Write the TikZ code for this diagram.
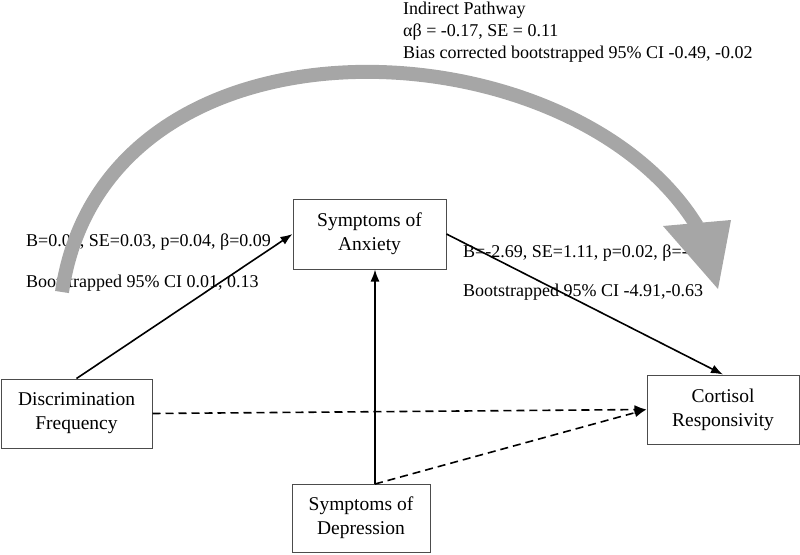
\documentclass[tikz,border=0pt]{standalone}
\usepackage{fontspec}
\setmainfont{Liberation Serif}
\usetikzlibrary{arrows.meta,calc}
\definecolor{arcgray}{HTML}{A6A6A6}
\tikzset{
  box/.style={draw=black!70, line width=1pt, align=center, inner sep=0pt, font=\fontsize{19.5}{24}\selectfont},
  lbl/.style={inner sep=0pt, font=\fontsize{18}{22}\selectfont, align=left},
  conn/.style={-{Latex[length=12pt,width=9pt]}, line width=1.6pt},
  dconn/.style={conn, dash pattern=on 8pt off 5pt},
}
\begin{document}
\begin{tikzpicture}[x=1pt,y=-1pt]
\useasboundingbox (0,0) rectangle (800,554);
% boxes
\node[box, minimum width=153pt, minimum height=70pt] (A) at (369.5,234) {Symptoms of\\Anxiety};
\node[box, minimum width=151pt, minimum height=69pt] (D) at (76.5,413.5) {Discrimination\\Frequency};
\node[box, minimum width=152pt, minimum height=69pt] (C) at (723,409.5) {Cortisol\\Responsivity};
\node[box, minimum width=138pt, minimum height=68pt] (P) at (361,518) {Symptoms of\\Depression};
% labels
\node[lbl, anchor=west] (ind) at (403,32) {Indirect Pathway\\αβ = -0.17, SE = 0.11\\Bias corrected bootstrapped 95\% CI -0.49, -0.02};
\node[lbl, anchor=west] (la1) at (26,242) {B=0.06, SE=0.03, p=0.04, β=0.09};
\node[lbl, anchor=west] (la2) at (26,283) {Bootstrapped 95\% CI 0.01, 0.13};
\node[lbl, anchor=west] (lb1) at (463,253) {B=-2.69, SE=1.11, p=0.02, β=-};
\node[lbl, anchor=west] (lb2) at (463,292) {Bootstrapped 95\% CI -4.91,-0.63};
% connectors
\coordinate (dv) at (375,484);
\draw[conn] (D.north) -- (A.west);
\draw[conn] (A.east) -- (C.north);
\draw[conn] (dv) -- (dv |- A.south);
\draw[dconn] (D.east) -- (C.west);
\draw[dconn] (dv) -- (C.west);
% indirect pathway arc
\coordinate (arcS) at (62,292);
\coordinate (arcE) at (697,226);
\draw[arcgray, line width=14pt] (arcS) .. controls (105,0) and (570,20) .. (arcE);
\fill[arcgray] (663,226) -- (731,220) -- (718,289) -- cycle;
\end{tikzpicture}
\end{document}
